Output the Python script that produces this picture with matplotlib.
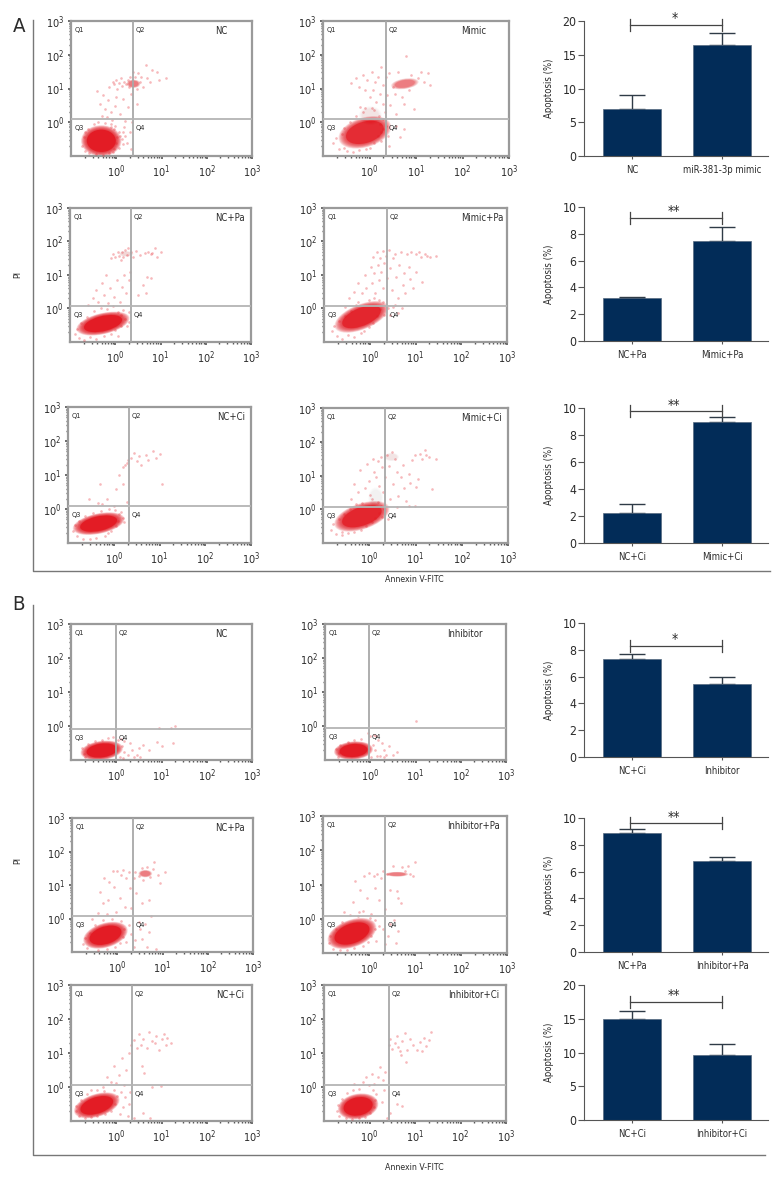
import matplotlib
matplotlib.use("Agg")
import matplotlib.pyplot as plt
import numpy as np
from matplotlib import font_manager
from matplotlib.patches import Ellipse
from matplotlib.ticker import FixedLocator, NullFormatter

# the original uses a condensed face, take one if this machine has it
condensed = [f for f in font_manager.fontManager.ttflist
             if f.name == "DejaVu Sans" and f.stretch in ("condensed", "semi-condensed")]
if condensed:
    plt.rcParams["font.family"] = ["DejaVu Sans"]
    plt.rcParams["font.stretch"] = "condensed"
    plt.rcParams["mathtext.fontset"] = "custom"
    plt.rcParams["mathtext.rm"] = "DejaVu Sans:stretch=condensed"
    FS = 0.98
else:
    plt.rcParams["font.family"] = ["Liberation Sans", "DejaVu Sans"]
    plt.rcParams["mathtext.fontset"] = "custom"
    plt.rcParams["mathtext.rm"] = "Liberation Sans"
    FS = 1.0
plt.rcParams["mathtext.default"] = "regular"

TEXT = "#2b2b2b"
FRAME = "#9a9a9a"
RED = "#e3161f"
NAVY = "#022c58"

# flow panels, all coordinates are log10 of the signal
flow_names = ["NC", "Mimic", "NC+Pa", "Mimic+Pa", "NC+Ci", "Mimic+Ci",
              "NC", "Inhibitor", "NC+Pa", "Inhibitor+Pa", "NC+Ci", "Inhibitor+Ci"]
gate_x = [0.37, 0.355, 0.348, 0.377, 0.333, 0.341, -0.006, -0.028, 0.348, 0.348, 0.348, 0.429]
gate_y = [0.096, 0.096, 0.075, 0.075, 0.088, 0.067, -0.088, -0.059, 0.075, 0.08, 0.059, 0.07]

# dense populations: centre x, centre y, half width, half height, tilt, strength
blobs_a1l = [(-0.33, -0.55, 0.32, 0.33, 0, 1.0), (0.38, 1.14, 0.11, 0.09, 0, 0.6)]
blobs_a1r = [(-0.10, -0.30, 0.44, 0.30, 32, 0.9), (0.76, 1.14, 0.22, 0.11, 14, 0.6), (0.02, 0.2, 0.18, 0.2, 0, 0.25)]
blobs_a2l = [(-0.27, -0.45, 0.44, 0.22, 20, 1.0), (0.24, 1.63, 0.12, 0.06, 0, 0.3)]
blobs_a2r = [(-0.18, -0.25, 0.48, 0.25, 34, 0.93)]
blobs_a3l = [(-0.33, -0.43, 0.42, 0.21, 18, 1.0)]
blobs_a3r = [(-0.16, -0.21, 0.47, 0.26, 30, 0.93), (0.14, 0.35, 0.12, 0.22, 0, 0.2), (0.48, 1.55, 0.12, 0.09, 0, 0.25)]
blobs_b1l = [(-0.32, -0.72, 0.34, 0.2, 12, 1.0)]
blobs_b1r = [(-0.37, -0.72, 0.31, 0.19, 8, 1.0)]
blobs_b2l = [(-0.26, -0.50, 0.38, 0.25, 30, 1.0), (0.62, 1.34, 0.11, 0.08, 0, 0.6)]
blobs_b2r = [(-0.37, -0.43, 0.42, 0.27, 34, 1.0), (0.61, 1.30, 0.18, 0.05, 0, 0.6)]
blobs_b3l = [(-0.43, -0.54, 0.39, 0.23, 28, 1.0)]
blobs_b3r = [(-0.25, -0.57, 0.33, 0.26, 25, 1.0)]

# single visible events outside the dense populations
dots_a1l = [(-0.42, 0.92), (-0.35, 0.55), (-0.32, 0.2), (-0.3, 0.82), (-0.25, 0.4), (-0.2, 0.15), (-0.18, 0.65), (-0.15, 1.05),
            (-0.12, 0.3), (-0.1, 0.06), (-0.08, 1.2), (-0.05, 1.12), (-0.03, 0.48), (0.0, 1.25), (0.02, 1.0), (0.05, 1.15),
            (0.08, 0.25), (0.1, 1.3), (0.12, 1.08), (0.15, 0.7), (0.18, 1.18), (0.2, 0.05), (0.22, 1.12), (0.25, 1.25),
            (0.25, 0.45), (0.28, 1.05), (0.3, 1.35), (0.33, 0.85), (0.36, 1.5), (0.42, 1.35), (0.45, 1.0), (0.48, 1.45),
            (0.52, 1.2), (0.55, 1.35), (0.6, 1.05), (0.68, 1.3), (0.75, 1.2), (0.8, 1.55), (0.9, 1.5), (0.95, 1.25),
            (1.1, 1.3), (-0.05, -0.2), (0.08, -0.4), (0.18, -0.15), (0.24, -0.6), (0.3, -0.3), (0.05, -0.75), (-0.12, -0.05),
            (0.45, 0.55), (0.65, 1.7), (0.15, -0.65), (0.33, -0.8), (0.35, 0.0), (0.0, 0.75),
            (-0.75, -0.7), (-0.72, -0.45), (-0.68, -0.85), (-0.62, -0.2), (-0.6, -0.92), (-0.5, -0.05), (-0.45, -0.95),
            (-0.4, 0.02), (-0.3, -0.98), (-0.25, -0.02), (-0.15, -0.92), (-0.12, -0.15), (-0.05, -0.8), (0.0, -0.6),
            (0.02, -0.45), (0.05, -0.28), (-0.02, -0.1), (0.12, -0.5), (0.15, -0.3), (-0.08, -0.88), (-0.7, -0.3), (0.2, -0.42)]
dots_a1r = [(-0.4, 1.15), (-0.3, 1.3), (-0.22, 1.05), (-0.15, 1.4), (-0.1, 0.95), (-0.05, 1.25), (0.0, 0.75), (0.05, 1.5),
            (0.08, 0.95), (0.12, 1.2), (0.15, 0.6), (0.18, 1.35), (0.22, 0.85), (0.25, 1.65), (0.28, 0.55), (0.3, 1.1),
            (0.33, 0.3), (0.36, 1.35), (0.38, 0.8), (0.42, 1.45), (0.45, 0.5), (0.5, 1.05), (0.55, 0.85), (0.58, 0.25),
            (0.62, 1.5), (0.7, 0.75), (0.75, 0.55), (0.78, 1.95), (0.85, 0.95), (0.9, 1.4), (0.95, 0.4), (1.05, 1.3),
            (1.1, 1.5), (1.18, 1.2), (1.25, 1.45), (1.3, 1.1), (0.4, -0.4), (0.58, -0.1), (0.75, -0.2), (0.42, -0.7),
            (0.28, -0.2), (0.25, -0.55), (0.35, -0.1), (0.65, -0.45), (-0.55, -0.75), (-0.2, 0.45), (0.1, 0.35), (0.2, 0.2),
            (-0.78, -0.62), (-0.72, -0.48), (-0.66, -0.8), (-0.6, -0.35), (-0.55, -0.18), (-0.48, -0.85), (-0.42, 0.02),
            (-0.35, -0.88), (-0.3, 0.18), (-0.22, -0.82), (-0.15, 0.3), (-0.08, -0.78), (0.02, -0.75), (0.1, -0.62),
            (0.18, -0.4), (0.22, -0.05), (0.28, 0.1), (0.05, 0.42), (-0.1, 0.42), (0.24, -0.3)]
dots_a2l = [(-0.6, 0.1), (-0.5, 0.3), (-0.42, 0.55), (-0.38, 0.2), (-0.3, 0.75), (-0.25, 0.4), (-0.2, 1.0), (-0.15, 0.15),
            (-0.12, 0.62), (-0.1, 1.5), (-0.05, 1.62), (-0.02, 0.35), (0.0, 1.55), (0.03, 0.85), (0.06, 1.7), (0.08, 1.58),
            (0.1, 0.2), (0.12, 1.45), (0.15, 1.68), (0.15, 0.65), (0.18, 1.55), (0.2, 1.0), (0.22, 1.75), (0.24, 0.45),
            (0.26, 1.6), (0.28, 1.82), (0.3, 0.85), (0.32, 1.1), (0.35, 1.7), (0.4, 1.55), (0.45, 1.72), (0.5, 0.4),
            (0.55, 1.6), (0.62, 0.7), (0.65, 1.65), (0.68, 0.45), (0.72, 1.68), (0.78, 1.62), (0.82, 1.65), (0.88, 1.8),
            (0.92, 1.55), (1.0, 1.7), (0.7, 0.95), (0.8, 0.9), (0.3, -0.1), (0.3, -0.4), (-0.05, 0.08), (0.12, -0.2),
            (-0.9, -0.75), (-0.85, -0.6), (-0.8, -0.88), (-0.75, -0.42), (-0.68, -0.95), (-0.62, -0.25), (-0.55, -0.85),
            (-0.48, -0.08), (-0.42, -0.92), (-0.32, 0.02), (-0.25, -0.82), (-0.18, -0.02), (-0.1, -0.75), (0.0, -0.65),
            (0.05, -0.1), (0.12, -0.52), (0.18, -0.05), (0.22, -0.3), (0.25, -0.52), (0.05, -0.82)]
dots_a2r = [(-0.55, 0.05), (-0.45, 0.3), (-0.35, 0.5), (-0.3, 0.1), (-0.25, 0.75), (-0.18, 0.45), (-0.1, 1.0), (-0.08, 0.62),
            (-0.02, 0.25), (0.02, 1.25), (0.05, 0.75), (0.08, 1.55), (0.1, 1.05), (0.12, 0.45), (0.15, 1.68), (0.18, 1.3),
            (0.2, 0.85), (0.22, 1.5), (0.25, 1.1), (0.28, 1.72), (0.3, 0.62), (0.32, 1.35), (0.35, 1.58), (0.38, 0.9),
            (0.42, 1.75), (0.45, 1.2), (0.48, 0.55), (0.5, 1.5), (0.55, 1.62), (0.58, 0.95), (0.62, 0.3), (0.65, 1.3),
            (0.68, 1.68), (0.72, 0.7), (0.75, 1.05), (0.78, 0.45), (0.82, 1.62), (0.85, 1.25), (0.88, 0.88), (0.9, 1.7),
            (0.95, 0.62), (1.0, 1.62), (1.02, 1.1), (1.08, 1.68), (1.12, 1.55), (1.15, 0.8), (1.2, 1.62), (1.25, 1.58),
            (1.32, 1.55), (1.45, 1.58), (0.4, 0.02), (0.55, 0.1), (0.62, -0.12), (0.45, -0.2), (0.5, 0.05), (0.7, 0.0),
            (-0.82, -0.68), (-0.78, -0.52), (-0.72, -0.82), (-0.68, -0.38), (-0.6, -0.9), (-0.55, -0.22), (-0.48, -0.8),
            (-0.42, -0.08), (-0.35, -0.85), (-0.25, 0.18), (-0.2, -0.72), (-0.12, -0.68), (-0.02, -0.55), (0.08, -0.42),
            (0.15, -0.22), (0.22, -0.02), (0.28, 0.18), (0.2, 0.25), (0.1, 0.32), (0.32, -0.18)]
dots_a3l = [(-0.55, 0.3), (-0.35, 0.18), (-0.25, 0.15), (-0.15, 0.3), (-0.1, 0.0), (0.0, 0.1), (0.05, 0.6), (0.12, 1.0),
            (0.2, 0.75), (0.2, 1.25), (0.25, 1.3), (0.28, 1.35), (0.32, 1.45), (0.38, 1.5), (0.45, 1.65), (0.5, 1.4),
            (0.55, 1.55), (0.6, 1.3), (0.7, 1.6), (0.75, 1.45), (0.85, 1.7), (0.92, 1.5), (1.0, 1.62), (1.05, 0.75),
            (-0.3, 0.75), (0.3, 0.2), (0.2, -0.25), (0.15, -0.1),
            (-0.88, -0.65), (-0.85, -0.48), (-0.8, -0.8), (-0.75, -0.35), (-0.68, -0.88), (-0.62, -0.2), (-0.52, -0.88),
            (-0.45, -0.12), (-0.38, -0.85), (-0.28, -0.05), (-0.2, -0.78), (-0.12, -0.72), (-0.05, -0.65), (0.05, -0.5),
            (0.1, -0.35), (0.12, -0.15), (0.22, -0.38), (0.02, -0.02)]
dots_a3r = [(-0.6, -0.75), (-0.4, 0.3), (-0.32, 0.75), (-0.25, 0.5), (-0.2, 1.15), (-0.15, 0.2), (-0.1, 0.62), (-0.05, 1.35),
            (0.0, 0.85), (0.02, 0.42), (0.08, 1.5), (0.1, 1.1), (0.15, 0.95), (0.18, 1.42), (0.22, 0.7), (0.25, 1.55),
            (0.28, 1.25), (0.3, 0.5), (0.33, 0.95), (0.38, 1.6), (0.42, 1.28), (0.45, 0.3), (0.5, 1.7), (0.52, 0.75),
            (0.55, 1.5), (0.6, 1.1), (0.62, 0.4), (0.68, 0.95), (0.72, 1.3), (0.75, 0.62), (0.8, 0.25), (0.85, 1.05),
            (0.88, 0.78), (0.92, 1.45), (0.98, 1.6), (1.0, 0.65), (1.05, 0.9), (1.1, 1.65), (1.15, 1.5), (1.2, 1.75),
            (1.22, 1.62), (1.3, 1.55), (1.35, 0.6), (1.45, 1.5), (0.6, 0.08), (0.85, 0.1), (0.98, 0.1), (0.4, -0.3),
            (-0.82, -0.62), (-0.78, -0.45), (-0.72, -0.72), (-0.66, -0.3), (-0.58, -0.68), (-0.55, -0.15), (-0.45, -0.7),
            (-0.42, 0.02), (-0.32, -0.66), (-0.28, 0.15), (-0.18, -0.6), (-0.08, -0.5), (0.05, -0.38), (0.12, -0.25),
            (0.2, -0.1), (0.25, 0.1), (0.18, 0.22), (0.05, 0.3), (0.32, 0.02), (0.28, -0.22)]
dots_b1l = [(0.35, -0.7), (0.45, -0.85), (0.3, -0.5), (0.5, -0.65), (0.25, -0.85), (0.6, -0.55), (0.72, -0.7), (0.9, -0.48),
            (1.0, -0.6), (1.2, -0.05), (1.3, 0.0), (0.95, -0.05), (1.25, -0.5), (0.52, -0.9), (0.15, -0.95), (0.1, -0.38),
            (0.18, -0.45), (0.4, -0.92), (-0.72, -0.82), (-0.75, -0.65), (-0.68, -0.92), (-0.62, -0.52), (-0.48, -0.45),
            (-0.32, -0.4), (-0.18, -0.36), (-0.08, -0.32), (0.04, -0.42), (0.12, -0.6), (0.18, -0.75), (0.08, -0.9)]
dots_b1r = [(0.25, -0.5), (0.3, -0.7), (0.35, -0.85), (0.42, -0.6), (0.5, -0.85), (0.6, -0.75), (0.18, -0.42), (0.12, -0.3),
            (0.22, -0.88), (1.0, 0.15), (0.0, -0.3), (0.08, -0.25), (-0.05, -0.2), (-0.7, -0.8), (0.3, -0.92),
            (-0.76, -0.68), (-0.72, -0.92), (-0.66, -0.55), (-0.5, -0.48), (-0.35, -0.42), (-0.2, -0.38), (0.05, -0.55),
            (0.1, -0.72), (0.14, -0.88), (0.02, -0.92)]
dots_b2l = [(-0.55, 0.0), (-0.42, 0.15), (-0.38, 0.8), (-0.32, 0.45), (-0.3, 1.2), (-0.22, 0.12), (-0.2, 0.55), (-0.18, 1.1),
            (-0.1, 1.42), (-0.08, 0.95), (-0.02, 0.2), (0.0, 1.42), (0.05, 0.62), (0.08, 1.3), (0.12, 1.45), (0.18, 0.35),
            (0.2, 1.22), (0.25, 1.4), (0.28, 0.9), (0.3, 0.3), (0.36, 1.2), (0.4, 1.4), (0.42, 0.75), (0.48, 1.28),
            (0.55, 1.5), (0.58, 1.15), (0.65, 1.55), (0.72, 1.25), (0.78, 1.48), (0.82, 1.7), (0.9, 1.3), (0.95, 1.05),
            (1.05, 1.4), (0.55, 0.45), (0.7, 0.55), (0.75, 0.08), (0.25, -0.2), (0.3, -0.45), (0.4, -0.65), (0.5, -0.3),
            (0.55, -0.6), (0.62, -0.15), (0.7, -0.4), (0.38, -0.85), (0.48, -0.1), (0.2, -0.7), (0.65, -0.85), (0.85, -0.9),
            (-0.76, -0.75), (-0.72, -0.58), (-0.66, -0.88), (-0.6, -0.42), (-0.5, -0.2), (-0.42, -0.95), (-0.32, -0.05),
            (-0.22, -0.92), (-0.12, 0.0), (-0.05, -0.85), (0.05, -0.72), (0.12, -0.55), (0.14, -0.3), (0.08, -0.08)]
dots_b2r = [(-0.55, 0.2), (-0.35, 0.5), (-0.3, 1.1), (-0.25, 0.08), (-0.2, 0.85), (-0.12, 0.22), (-0.1, 1.25), (-0.05, 0.62),
            (0.0, 1.35), (0.05, 0.15), (0.1, 1.25), (0.12, 0.9), (0.18, 1.32), (0.22, 0.55), (0.25, 1.2), (0.3, 1.4),
            (0.35, 0.28), (0.4, 1.32), (0.45, 0.85), (0.52, 1.55), (0.6, 0.8), (0.62, 0.6), (0.72, 1.5), (0.78, 1.38),
            (0.85, 1.55), (0.9, 1.32), (0.95, 1.25), (1.0, 1.65), (0.7, 0.45), (0.3, -0.3), (0.42, -0.5), (0.45, -0.15),
            (0.55, -0.05), (0.62, -0.35), (0.35, -0.75), (0.22, -0.2), (0.58, -0.7), (0.15, -0.65),
            (-0.88, -0.72), (-0.85, -0.5), (-0.78, -0.88), (-0.72, -0.3), (-0.62, -0.92), (-0.58, -0.1), (-0.48, -0.9),
            (-0.42, 0.12), (-0.32, -0.85), (-0.22, 0.2), (-0.12, -0.8), (-0.02, -0.68), (0.05, -0.5), (0.12, -0.3),
            (0.12, -0.05), (0.02, 0.02)]
dots_b3l = [(-0.55, -0.1), (-0.3, 0.0), (-0.2, 0.3), (-0.12, 0.15), (-0.05, 0.62), (0.0, 0.12), (0.05, 0.35), (0.12, 0.85),
            (0.18, 0.05), (0.22, 0.5), (0.28, 1.0), (0.33, 1.25), (0.4, 1.38), (0.45, 1.15), (0.5, 1.55), (0.55, 1.25),
            (0.58, 0.62), (0.6, 1.42), (0.68, 1.15), (0.72, 1.62), (0.78, 1.35), (0.85, 1.28), (0.88, 1.5), (0.95, 1.1),
            (1.0, 1.42), (1.05, 1.55), (1.1, 1.25), (1.12, 1.45), (1.2, 1.3), (0.62, 0.4), (0.8, 0.0), (0.98, 0.02),
            (0.1, -0.15), (0.2, -0.3), (0.28, -0.5), (0.3, -0.15), (0.15, -0.6), (0.08, -0.8), (0.25, -0.85), (0.6, -0.75),
            (0.4, -0.9), (0.75, -0.9), (-0.9, -0.72), (-0.88, -0.55), (-0.82, -0.85), (-0.78, -0.38), (-0.7, -0.9),
            (-0.65, -0.22), (-0.55, -0.88), (-0.42, -0.1), (-0.42, -0.86), (-0.28, -0.12), (-0.25, -0.8), (-0.12, -0.7),
            (-0.02, -0.5), (0.02, -0.25), (-0.05, -0.08)]
dots_b3r = [(-0.35, 0.1), (-0.22, -0.05), (-0.15, 0.15), (-0.08, 0.3), (-0.02, 0.05), (0.05, 0.38), (0.1, 0.1), (0.18, 0.28),
            (0.22, 0.6), (0.3, 0.2), (0.35, 0.45), (0.42, 1.25), (0.45, 1.42), (0.5, 1.12), (0.55, 1.3), (0.6, 1.5),
            (0.62, 1.18), (0.68, 1.05), (0.72, 1.35), (0.78, 1.6), (0.82, 1.08), (0.88, 1.4), (0.95, 1.25), (1.05, 1.1),
            (1.1, 1.32), (1.15, 1.05), (1.2, 1.45), (1.25, 1.2), (1.3, 1.38), (1.35, 1.62), (0.8, 0.75), (0.7, 0.95),
            (0.15, -0.2), (0.28, -0.45), (0.32, -0.1), (0.45, -0.75), (0.6, -0.5), (0.72, -0.55), (0.38, -0.9),
            (-0.72, -0.72), (-0.7, -0.52), (-0.66, -0.85), (-0.6, -0.35), (-0.52, -0.92), (-0.5, -0.18), (-0.38, -0.95),
            (-0.36, -0.08), (-0.22, -0.92), (-0.1, -0.88), (0.02, -0.75), (0.1, -0.58), (0.12, -0.38), (0.08, -0.1)]

flow_blobs = [blobs_a1l, blobs_a1r, blobs_a2l, blobs_a2r, blobs_a3l, blobs_a3r,
              blobs_b1l, blobs_b1r, blobs_b2l, blobs_b2r, blobs_b3l, blobs_b3r]
flow_dots = [dots_a1l, dots_a1r, dots_a2l, dots_a2r, dots_a3l, dots_a3r,
             dots_b1l, dots_b1r, dots_b2l, dots_b2r, dots_b3l, dots_b3r]

# bar charts
bar_labels = [["NC", "miR-381-3p mimic"], ["NC+Pa", "Mimic+Pa"], ["NC+Ci", "Mimic+Ci"],
              ["NC+Ci", "Inhibitor"], ["NC+Pa", "Inhibitor+Pa"], ["NC+Ci", "Inhibitor+Ci"]]
bar_values = [[6.9, 16.5], [3.2, 7.5], [2.2, 9.0], [7.35, 5.45], [8.85, 6.8], [15.0, 9.6]]
bar_errors = [[2.1, 1.7], [0.1, 1.0], [0.7, 0.3], [0.3, 0.55], [0.35, 0.3], [1.2, 1.7]]
bar_tops = [20, 10, 10, 10, 10, 20]
bar_steps = [5, 2, 2, 2, 2, 5]
bracket_levels = [19.4, 9.2, 9.75, 8.3, 9.6, 17.5]
bracket_stars = ["*", "**", "**", "*", "**", "**"]

# pixel boxes: left, right, top, bottom
flow_boxes = [(71, 252, 21, 156), (323, 509, 21, 156), (70, 251, 208, 342), (324, 507, 208, 342),
              (68, 251, 407, 543), (323, 508, 408, 543), (71, 252, 624, 760), (325, 506, 624, 760),
              (72, 253, 818, 952), (323, 507, 816, 953), (71, 252, 985, 1121), (324, 506, 985, 1121)]
flow_name_x = [221, 474, 230, 482, 231, 481, 221, 465, 230, 474, 230, 474]
bar_boxes = [(21, 156), (207, 341), (408, 543), (623, 757), (818, 952), (985, 1120)]

fig = plt.figure(figsize=(7.8, 12), dpi=100)
W, H = 780.0, 1200.0


def px_axes(left, right, top, bottom):
    return fig.add_axes([left / W, 1 - bottom / H, (right - left) / W, (bottom - top) / H])


def draw_flow(i):
    left, right, top, bottom = flow_boxes[i]
    ax = px_axes(left, right, top, bottom)
    ax.set_xlim(-1, 3)
    ax.set_ylim(-1, 3)
    for x, y, rx, ry, tilt, strength in flow_blobs[i]:
        # faint layers fade the edge out, the solid one keeps the middle saturated
        for scale in np.linspace(1.4, 1.02, 12):
            ax.add_patch(Ellipse((x, y), 2 * rx * scale, 2 * ry * scale, angle=tilt, color=RED,
                                 alpha=0.13 * strength ** 2, lw=0, zorder=2))
        ax.add_patch(Ellipse((x, y), 2 * rx, 2 * ry, angle=tilt, color=RED,
                             alpha=0.85 * strength ** 3, lw=0, zorder=2))
    pts = np.array(flow_dots[i])
    ax.scatter(pts[:, 0], pts[:, 1], s=3.6, color=RED, alpha=0.3, linewidths=0, zorder=3)

    ax.axvline(gate_x[i], color="#a8a8a8", lw=1.3, zorder=4)
    ax.axhline(gate_y[i], color="#b4b4b4", lw=1.3, zorder=4)

    for side in ax.spines.values():
        side.set_color(FRAME)
        side.set_linewidth(1.6)
    major = [0, 1, 2, 3]
    minor = [d + np.log10(m) for d in range(-1, 3) for m in range(2, 10)]
    labels = [r"$10^{%d}$" % d for d in major]
    ax.set_xticks(major, labels)
    ax.set_yticks(major, labels)
    ax.xaxis.set_minor_locator(FixedLocator(minor))
    ax.yaxis.set_minor_locator(FixedLocator(minor))
    ax.xaxis.set_minor_formatter(NullFormatter())
    ax.yaxis.set_minor_formatter(NullFormatter())
    ax.tick_params(which="major", length=2, width=1.1, color="#444444", labelsize=8 * FS,
                   labelcolor=TEXT, pad=3)
    ax.tick_params(which="minor", length=1.5, width=1.0, color="#555555")

    ux = 4 / (right - left)
    uy = 4 / (bottom - top)
    q_size = 5.4 * FS
    ax.text(-1 + 4 * ux, 3 - 9 * uy, "Q1", fontsize=q_size, color=TEXT, va="center")
    ax.text(gate_x[i] + 3 * ux, 3 - 9 * uy, "Q2", fontsize=q_size, color=TEXT, va="center")
    ax.text(-1 + 4 * ux, gate_y[i] - 9 * uy, "Q3", fontsize=q_size, color=TEXT, va="center")
    ax.text(gate_x[i] + 3 * ux, gate_y[i] - 9 * uy, "Q4", fontsize=q_size, color=TEXT, va="center")
    ax.text((flow_name_x[i] - left) / (right - left), 1 - 10 / (bottom - top), flow_names[i],
            transform=ax.transAxes, fontsize=7 * FS, color=TEXT, ha="center", va="center")


def draw_bars(i):
    top, bottom = bar_boxes[i]
    ax = px_axes(584, 768, top, bottom)
    ax.set_xlim(-0.533, 1.51)
    ax.set_ylim(0, bar_tops[i])
    ax.bar([0, 1], bar_values[i], width=0.644, color=NAVY, edgecolor="#55697f", linewidth=0.5, zorder=2)
    ax.errorbar([0, 1], bar_values[i], yerr=[[0, 0], bar_errors[i]], fmt="none", ecolor="#2f3b47",
                elinewidth=1.0, capsize=9.7, capthick=1.0, zorder=1)

    level = bracket_levels[i]
    reach = 0.045 * bar_tops[i]
    ax.plot([-0.02, 1.0], [level, level], color="#444444", lw=0.9, clip_on=False)
    ax.plot([-0.02, -0.02], [level - reach, level + reach], color="#444444", lw=0.9, clip_on=False)
    ax.plot([1.0, 1.0], [level - reach, level + reach], color="#444444", lw=0.9, clip_on=False)
    ax.text(0.47, level + 0.05 * bar_tops[i], bracket_stars[i], fontsize=10, color=TEXT, ha="center",
            va="center", clip_on=False)

    ax.spines["top"].set_visible(False)
    ax.spines["right"].set_visible(False)
    ax.spines["left"].set_color("#555555")
    ax.spines["bottom"].set_color("#555555")
    ax.set_yticks(np.arange(0, bar_tops[i] + 1, bar_steps[i]))
    ax.set_xticks([0, 1], bar_labels[i])
    ax.tick_params(axis="y", length=4, width=0.8, color="#555555", labelsize=9 * FS, labelcolor=TEXT, pad=1.5)
    ax.tick_params(axis="x", length=2, width=0.8, color="#555555", labelsize=7 * FS, labelcolor=TEXT, pad=4.5)
    ax.set_ylabel("Apoptosis (%)", fontsize=7 * FS, color=TEXT, labelpad=6)


for n in range(12):
    draw_flow(n)
for n in range(6):
    draw_bars(n)

# page furniture drawn in pixel coordinates
page = fig.add_axes([0, 0, 1, 1], zorder=-1)
page.set_xlim(0, W)
page.set_ylim(H, 0)
page.axis("off")
page.plot([33, 33, 770], [20, 571, 571], color="#777777", lw=1.0)
page.plot([33, 33, 765], [605, 1155, 1155], color="#777777", lw=1.0)
page.text(19, 27, "A", fontsize=15 * FS, color=TEXT, ha="center", va="center")
page.text(19, 605, "B", fontsize=15 * FS, color=TEXT, ha="center", va="center")
page.text(18, 275, "PI", fontsize=6.5 * FS, color=TEXT, rotation=90, ha="center", va="center")
page.text(18, 860, "PI", fontsize=6.5 * FS, color=TEXT, rotation=90, ha="center", va="center")
page.text(414, 580, "Annexin V-FITC", fontsize=6.4 * FS, color=TEXT, ha="center", va="center")
page.text(414, 1167, "Annexin V-FITC", fontsize=6.4 * FS, color=TEXT, ha="center", va="center")

fig.savefig("out.png", dpi=100)
plt.close(fig)
